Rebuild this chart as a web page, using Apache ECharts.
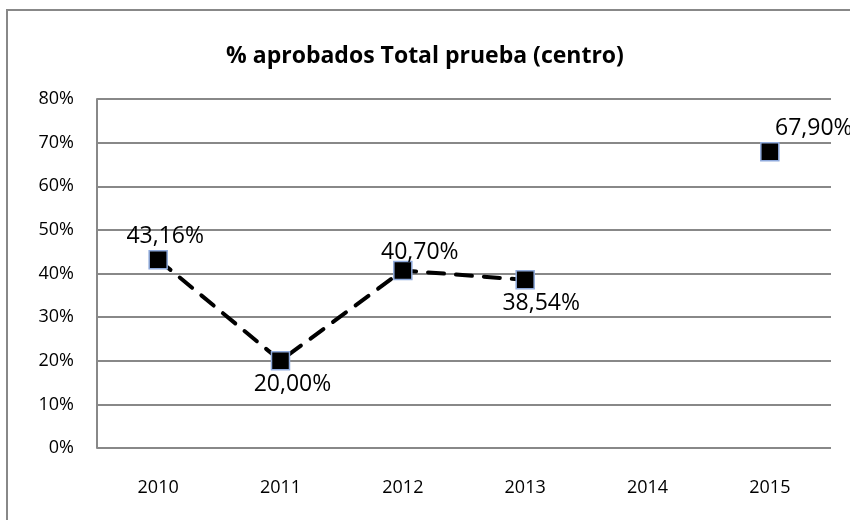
<!DOCTYPE html>
<html>
<head>
<meta charset="utf-8">
<script src="https://cdn.jsdelivr.net/npm/echarts@6/dist/echarts.min.js"></script>
<style>
  html, body { margin: 0; padding: 0; background: #fff; }
  #chart { width: 850px; height: 520px; }
</style>
</head>
<body>
<div id="chart"></div>
<script>
// categorias (años)
const years = ["2010", "2011", "2012", "2013", "2014", "2015"];
// % aprobados, 2014 sin dato
const aprobados = [43.16, 20.0, 40.7, 38.54, null, 67.9];
// marcas del eje y
const yTicks = [0, 10, 20, 30, 40, 50, 60, 70, 80];

// posicion de cada etiqueta
const labelPos = ["top", "bottom", "top", "bottom", "top", "top"];
const labelShift = [[7, 0], [12, 0], [17, 5], [16, 0], [0, 0], [44, 0]];

const font = "Open Sans";
const myChart = echarts.init(document.getElementById("chart"));

let data = aprobados.map((v, i) => ({
  value: v,
  label: { position: labelPos[i], offset: labelShift[i] }
}));

let option = {
  animation: false,
  graphic: [{
    type: "rect",
    shape: { x: 7, y: 10, width: 900, height: 600 },
    style: { fill: "none", stroke: "#888", lineWidth: 2 }
  }],
  title: {
    text: "% aprobados Total prueba (centro)",
    left: "center",
    top: 40,
    textStyle: { fontFamily: font, fontSize: 23, fontWeight: "bold", color: "#000" }
  },
  grid: { left: 97, right: 19, top: 99, bottom: 72 },
  xAxis: {
    type: "category",
    data: years,
    axisLine: { show: false },
    axisTick: { show: false },
    axisLabel: { color: "#000", fontFamily: font, fontSize: 18, margin: 31 }
  },
  yAxis: {
    type: "value",
    min: yTicks[0],
    max: yTicks[yTicks.length - 1],
    interval: 10,
    axisLine: { show: true, lineStyle: { color: "#888", width: 2 } },
    axisTick: { show: false },
    axisLabel: { color: "#000", fontFamily: font, fontSize: 18, margin: 23, formatter: "{value}%" },
    splitLine: { lineStyle: { color: "#888", width: 2 } }
  },
  series: [{
    type: "line",
    data: data,
    connectNulls: false,
    symbol: "rect",
    symbolSize: 18,
    itemStyle: { color: "#000", borderColor: "#8faadc", borderWidth: 1.5 },
    lineStyle: { color: "#000", width: 4, type: [16, 12], cap: "round" },
    label: {
      show: true,
      color: "#000",
      fontFamily: font,
      fontSize: 23,
      distance: 2,
      formatter: p => p.value.toFixed(2).replace(".", ",") + "%"
    }
  }]
};
option && myChart.setOption(option);
</script>
</body>
</html>
